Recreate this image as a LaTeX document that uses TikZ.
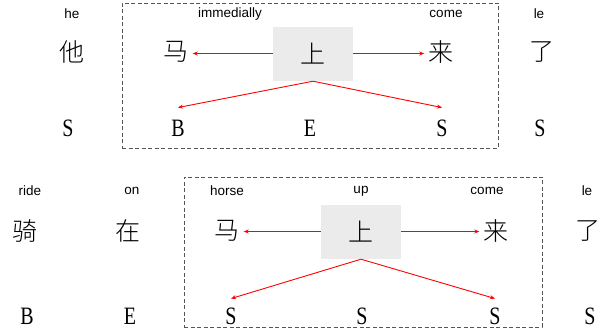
\documentclass[tikz,border=0pt]{standalone}
\usepackage{fontspec}
\setmainfont{Liberation Serif}
\setsansfont{Liberation Sans}
\newfontfamily\cjk[UprightFont={* Light}]{Noto Sans CJK SC}
\usetikzlibrary{arrows.meta}
\definecolor{hlgray}{HTML}{EBEBEB}
\definecolor{boxgray}{HTML}{555555}
\tikzset{
  en/.style={font=\sffamily\fontsize{13.5}{14}\selectfont, inner sep=0pt},
  zh/.style={font=\cjk\fontsize{25}{25}\selectfont, inner xsep=4pt, inner ysep=0pt},
  hl/.style={zh, fill=hlgray, minimum width=80pt, minimum height=54pt},
  tag/.style={font=\fontsize{25}{25}\selectfont, inner sep=0pt, text height=16.5pt, text depth=0pt},
  grp/.style={draw=boxgray, dash pattern=on 4pt off 2.5pt, line width=0.7pt, inner sep=0pt},
  arr/.style={draw=red, line width=0.9pt, -{Stealth[length=5pt,width=4pt]}}
}
\newcommand{\tg}[1]{\scalebox{0.8}[1]{#1}}
\begin{document}
\begin{tikzpicture}[x=1pt,y=-1pt]
\useasboundingbox (0,0) rectangle (608,336);
% ---------- top ----------
\node[grp, minimum width=376pt, minimum height=145pt] (box1) at (310,75.5) {};
\node[en] (he) at (72,14) {he};
\node[en] (imm) at (230,14) {immedially};
\node[en] (come1) at (446,14) {come};
\node[en] (le1) at (539,14) {le};
\node[zh] (ta) at (72,52) {他};
\node[zh] (ma1) at (176,52) {马};
\node[hl] (shang1) at (313,54) {上};
\node[zh] (lai1) at (441,52) {来};
\node[zh] (liao1) at (542,52) {了};
\node[tag] (t1a) at (68,128) {\tg{S}};
\node[tag] (t1b) at (178,128) {\tg{B}};
\node[tag] (t1c) at (310,128) {\tg{E}};
\node[tag] (t1d) at (442,128) {\tg{S}};
\node[tag] (t1e) at (540,128) {\tg{S}};
\draw[arr] ([yshift=0.5pt]shang1.west) -- ([yshift=0.5pt]ma1.east |- shang1.west);
\draw[arr] ([yshift=0.5pt]shang1.east) -- ([yshift=0.5pt]lai1.west |- shang1.east);
\draw[arr] (shang1.south) -- ([yshift=12pt]t1b.north);
\draw[arr] (shang1.south) -- ([yshift=12pt]t1d.north);
% ---------- bottom ----------
\node[grp, minimum width=358pt, minimum height=150pt] (box2) at (363,252) {};
\node[en] (ride) at (30,191) {ride};
\node[en] (on) at (132,191) {on};
\node[en] (horse) at (227,191) {horse};
\node[en] (up) at (361,191) {up};
\node[en] (come2) at (487,191) {come};
\node[en] (le2) at (587,191) {le};
\node[zh] (qi) at (25,231) {骑};
\node[zh] (zai) at (128,231) {在};
\node[zh] (ma2) at (227,231) {马};
\node[hl] (shang2) at (361,232) {上};
\node[zh] (lai2) at (496,231) {来};
\node[zh] (liao2) at (588,231) {了};
\node[tag] (t2a) at (27,316) {\tg{B}};
\node[tag] (t2b) at (130,316) {\tg{E}};
\node[tag] (t2c) at (231,316) {\tg{S}};
\node[tag] (t2d) at (362,316) {\tg{S}};
\node[tag] (t2e) at (495,316) {\tg{S}};
\node[tag] (t2f) at (590,316) {\tg{S}};
\draw[arr] ([yshift=0.5pt]shang2.west) -- ([yshift=0.5pt]ma2.east |- shang2.west);
\draw[arr] ([yshift=0.5pt]shang2.east) -- ([yshift=0.5pt]lai2.west |- shang2.east);
\draw[arr] (shang2.south) -- ([yshift=9pt]t2c.north);
\draw[arr] (shang2.south) -- ([yshift=9pt]t2e.north);
\end{tikzpicture}
\end{document}
